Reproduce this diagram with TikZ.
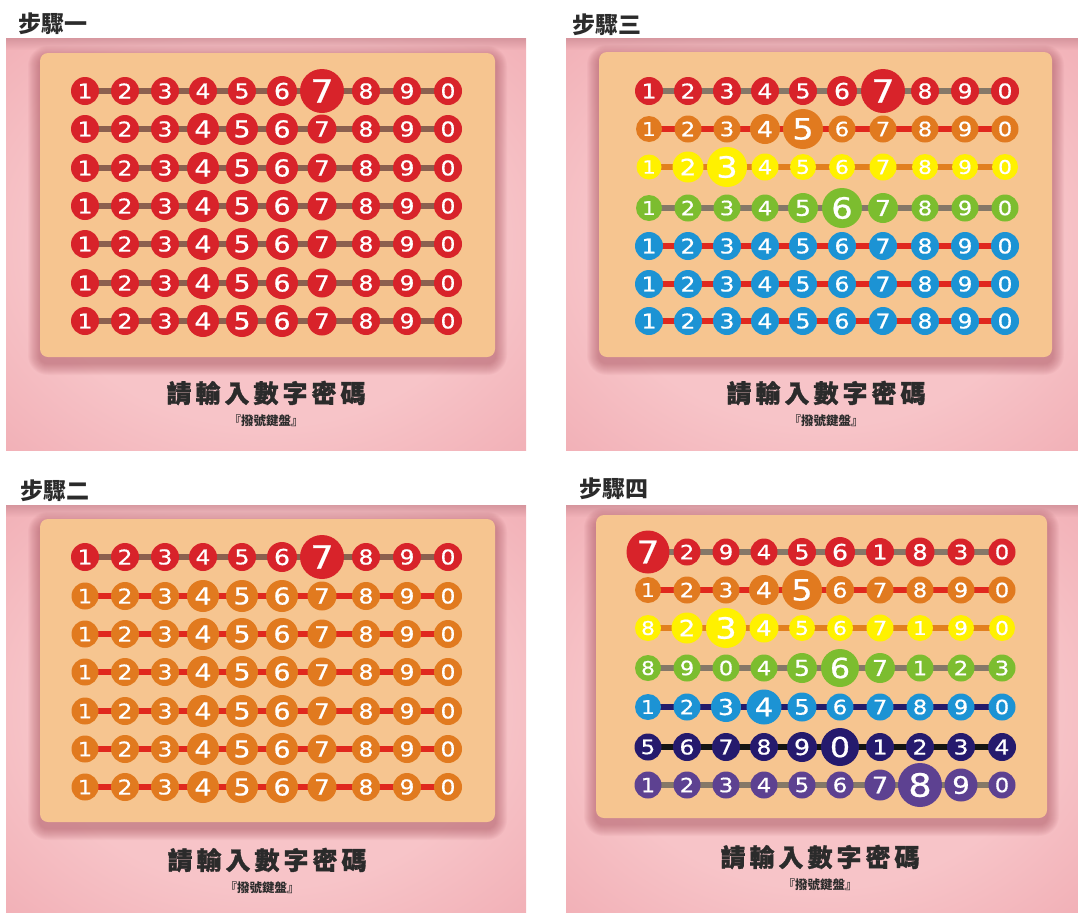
\documentclass[tikz,border=0pt]{standalone}
\usepackage{fontspec}
\newfontfamily\cjk{Noto Sans CJK TC}
\newfontfamily\cjkcap[LetterSpace=16,BoldFeatures={FakeBold=1.2}]{Noto Sans CJK TC}
\newfontfamily\digfont[FakeStretch=1.15,FakeBold=0.7]{DejaVu Sans}
\definecolor{pinkC}{HTML}{F7C4C8}
\definecolor{pinkE}{HTML}{EA96A0}
\definecolor{pinkD}{HTML}{C4838C}
\definecolor{shadowC}{HTML}{A8505C}
\definecolor{orangeP}{HTML}{F6C590}
\definecolor{redK}{HTML}{D8232A}
\definecolor{orangeK}{HTML}{E17A1F}
\definecolor{yellowK}{HTML}{FFF100}
\definecolor{greenK}{HTML}{7CBD2F}
\definecolor{blueK}{HTML}{1C93D4}
\definecolor{navyK}{HTML}{251A6D}
\definecolor{purpleK}{HTML}{5D4191}
\definecolor{brownB}{HTML}{8B604F}
\definecolor{greyB}{HTML}{857868}
\definecolor{redB}{HTML}{E0281E}
\definecolor{orangeB}{HTML}{E2801F}
\definecolor{navyB}{HTML}{241B6B}
\definecolor{blackB}{HTML}{141414}
\definecolor{textK}{HTML}{2B2B2B}
\pgfdeclareradialshading{pinkglow}{\pgfpoint{0bp}{0bp}}{color(0bp)=(pinkC); color(22bp)=(pinkC); color(54bp)=(pinkE); color(72bp)=(pinkE)}
\pgfdeclarelayer{panel}
\pgfdeclarelayer{bars}
\pgfsetlayers{panel,bars,main}
\tikzset{
  keyball/.style={circle, inner sep=0pt, text=white},
  keybar/.style={line width=5.5pt},
  heading/.style={anchor=west, text=textK, font={\cjk\bfseries\fontsize{23pt}{23pt}\selectfont}},
  caption/.style={text=textK, font={\cjkcap\bfseries\fontsize{25pt}{25pt}\selectfont}},
  subcap/.style={text=textK, font={\cjk\bfseries\fontsize{12.5pt}{12.5pt}\selectfont}}
}
\def\colsL{{85,125,165,203,242,282,322,366,407,448}}
\def\colsC{{649,688,727,765,803,842,883,925,965,1005}}
\def\colsD{{648,687,726,764,802,840,880,920,961,1002}}
\newcommand\keyrow[6]{%
  \foreach \dd/\ss [count=\k from 0] in {#6}{%
    \pgfmathsetmacro\xx{#5[\k]}%
    \pgfmathsetmacro\fs{0.73*\ss}%
    \node[keyball, fill=#3, minimum size=\ss pt, font={\digfont\fontsize{\fs pt}{\fs pt}\selectfont}] (#1-\k) at (\xx,#2) {\dd};
  }%
  \begin{pgfonlayer}{bars}
    \foreach \k in {0,...,8}{\pgfmathtruncatemacro\j{\k+1}\draw[keybar, draw=#4] (#1-\k.center) -- (#1-\j.center);}
  \end{pgfonlayer}%
}
\newcommand\panelbg[8]{%
  \begin{pgfonlayer}{panel}
    \shade[shading=pinkglow] (#1,#2) rectangle (#3,#4);
    \foreach \i in {0,...,11}{\pgfmathsetmacro\op{0.6*(1-\i/12)}\fill[pinkD, opacity=\op] (#1,{#2+\i}) rectangle (#3,{#2+\i+1});}
    \foreach \e in {1,...,12}{\pgfmathsetmacro\rc{8+\e}\fill[shadowC, opacity=0.05, rounded corners=\rc pt] ({#5-\e},{#6-\e+5}) rectangle ({#7+\e},{#8+\e+6});}
    \fill[orangeP, rounded corners=8pt] (#5,#6) rectangle (#7,#8);
  \end{pgfonlayer}%
}
\begin{document}
\begin{tikzpicture}[x=1pt,y=-1pt]
\useasboundingbox (0,0) rectangle (1078,916);
\begin{pgfonlayer}{panel}
\fill[white] (0,0) rectangle (1078,916);
\end{pgfonlayer}
% ---------- backgrounds
\panelbg{6}{38}{526}{450}{40}{53}{495}{357}
\panelbg{6}{505}{526}{912}{40}{519}{495}{822}
\panelbg{566}{38}{1078}{450}{599}{52}{1052}{357}
\panelbg{566}{505}{1078}{912}{596}{515}{1047}{818}
% ---------- headings and captions
\node[heading] (h1) at (15,24) {步驟一};
\node[heading] (h2) at (17,491) {步驟二};
\node[heading] (h3) at (569,25) {步驟三};
\node[heading] (h4) at (576,489) {步驟四};
\node[caption] (c1) at (266,393) {請輸入數字密碼};
\node[subcap] (s1) at (266,421) {『撥號鍵盤』};
\node[caption] (c2) at (267,860) {請輸入數字密碼};
\node[subcap] (s2) at (262,888) {『撥號鍵盤』};
\node[caption] (c3) at (826,393) {請輸入數字密碼};
\node[subcap] (s3) at (826,421) {『撥號鍵盤』};
\node[caption] (c4) at (820,857) {請輸入數字密碼};
\node[subcap] (s4) at (820,885) {『撥號鍵盤』};
% ---------- panel 1
\keyrow{a1}{91}{redK}{brownB}{\colsL}{1/28,2/28,3/28,4/28,5/28,6/30,7/44,8/28,9/28,0/28}
\keyrow{a2}{129}{redK}{brownB}{\colsL}{1/28,2/28,3/28,4/32,5/32,6/32,7/29,8/28,9/28,0/28}
\keyrow{a3}{168}{redK}{brownB}{\colsL}{1/28,2/28,3/28,4/32,5/32,6/32,7/29,8/28,9/28,0/28}
\keyrow{a4}{206}{redK}{brownB}{\colsL}{1/28,2/28,3/28,4/32,5/32,6/32,7/29,8/28,9/28,0/28}
\keyrow{a5}{244}{redK}{brownB}{\colsL}{1/28,2/28,3/28,4/32,5/32,6/32,7/29,8/28,9/28,0/28}
\keyrow{a6}{283}{redK}{brownB}{\colsL}{1/28,2/28,3/28,4/32,5/32,6/32,7/29,8/28,9/28,0/28}
\keyrow{a7}{321}{redK}{brownB}{\colsL}{1/28,2/28,3/28,4/32,5/32,6/32,7/29,8/28,9/28,0/28}
% ---------- panel 2
\keyrow{b1}{557}{redK}{brownB}{\colsL}{1/28,2/28,3/28,4/28,5/28,6/30,7/44,8/28,9/28,0/28}
\keyrow{b2}{596}{orangeK}{redB}{\colsL}{1/27,2/28,3/28,4/32,5/32,6/32,7/29,8/28,9/28,0/28}
\keyrow{b3}{634}{orangeK}{redB}{\colsL}{1/27,2/28,3/28,4/32,5/32,6/32,7/29,8/28,9/28,0/28}
\keyrow{b4}{672}{orangeK}{redB}{\colsL}{1/27,2/28,3/28,4/32,5/32,6/32,7/29,8/28,9/28,0/28}
\keyrow{b5}{711}{orangeK}{redB}{\colsL}{1/27,2/28,3/28,4/32,5/32,6/32,7/29,8/28,9/28,0/28}
\keyrow{b6}{749}{orangeK}{redB}{\colsL}{1/27,2/28,3/28,4/32,5/32,6/32,7/29,8/28,9/28,0/28}
\keyrow{b7}{787}{orangeK}{redB}{\colsL}{1/27,2/28,3/28,4/32,5/32,6/32,7/29,8/28,9/28,0/28}
% ---------- panel 3
\keyrow{c1}{91}{redK}{greyB}{\colsC}{1/28,2/28,3/28,4/28,5/28,6/30,7/44,8/28,9/28,0/28}
\keyrow{c2}{129}{orangeK}{redB}{\colsC}{1/26,2/27,3/27,4/30,5/40,6/27,7/27,8/27,9/27,0/27}
\keyrow{c3}{167}{yellowK}{orangeB}{\colsC}{1/25,2/31,3/40,4/27,5/26,6/26,7/27,8/26,9/26,0/26}
\keyrow{c4}{208}{greenK}{greyB}{\colsC}{1/26,2/27,3/27,4/27,5/30,6/40,7/30,8/27,9/27,0/27}
\keyrow{c5}{246}{blueK}{redB}{\colsC}{1/28,2/28,3/28,4/28,5/28,6/28,7/28,8/28,9/28,0/28}
\keyrow{c6}{284}{blueK}{redB}{\colsC}{1/28,2/28,3/28,4/28,5/28,6/28,7/28,8/28,9/28,0/28}
\keyrow{c7}{321}{blueK}{redB}{\colsC}{1/28,2/28,3/28,4/28,5/28,6/28,7/28,8/28,9/28,0/28}
% ---------- panel 4
\keyrow{d1}{552}{redK}{greyB}{\colsD}{7/43,2/27,9/27,4/27,5/28,6/30,1/28,8/29,3/27,0/27}
\keyrow{d2}{590}{orangeK}{redB}{\colsD}{1/26,2/27,3/27,4/30,5/40,6/28,7/27,8/27,9/27,0/27}
\keyrow{d3}{628}{yellowK}{orangeB}{\colsD}{8/26,2/31,3/40,4/29,5/26,6/26,7/27,1/26,9/26,0/26}
\keyrow{d4}{668}{greenK}{greyB}{\colsD}{8/26,9/27,0/27,4/27,5/30,6/38,7/30,1/27,2/27,3/27}
\keyrow{d5}{707}{blueK}{navyB}{\colsD}{1/26,2/27,3/30,4/35,5/29,6/27,7/27,8/27,9/27,0/27}
\keyrow{d6}{747}{navyK}{blackB}{\colsD}{5/27,6/28,7/28,8/28,9/30,0/38,1/28,2/28,3/28,4/28}
\keyrow{d7}{785}{purpleK}{greyB}{\colsD}{1/27,2/27,3/27,4/27,5/27,6/27,7/31,8/44,9/33,0/27}
\end{tikzpicture}
\end{document}
